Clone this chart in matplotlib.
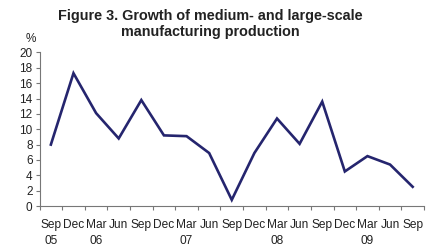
import numpy as np
import matplotlib.pyplot as plt

plt.rcParams['font.family'] = ['Liberation Sans', 'DejaVu Sans']

# data
months = ["Sep", "Dec", "Mar", "Jun", "Sep", "Dec", "Mar", "Jun", "Sep",
          "Dec", "Mar", "Jun", "Sep", "Dec", "Mar", "Jun", "Sep"]
years = ["05", "", "06", "", "", "", "07", "", "", "", "08", "", "", "", "09", "", ""]
growth = [8.0, 17.3, 12.1, 8.8, 13.8, 9.2, 9.1, 6.9, 0.8,
          6.9, 11.4, 8.1, 13.6, 4.5, 6.5, 5.4, 2.5]

fig = plt.figure(figsize=(4.3, 2.46), dpi=100)
ax = fig.add_axes([0.092, 0.1626, 0.894, 0.624])

x = np.arange(len(growth))
ax.plot(x, growth, color="#25256e", linewidth=1.9, solid_joinstyle="miter")

ax.set_xlim(-0.5, len(growth) - 0.5)
ax.set_ylim(0, 20)
ax.set_yticks(np.arange(0, 21, 2))

labels = [f"{m}\n{y}" for m, y in zip(months, years)]
ax.set_xticks(x)
ax.set_xticklabels(labels, fontsize=8.6, color="#222222", linespacing=1.45)
ax.tick_params(axis="x", which="major", length=0, pad=9)
ax.set_xticks(np.arange(-0.5, len(growth)), minor=True)
ax.tick_params(axis="x", which="minor", length=3, color="#777777", width=0.8)
ax.tick_params(axis="y", length=3, color="#777777", width=0.8, labelsize=8.5,
               labelcolor="#222222", pad=2)

for s in ["top", "right"]:
    ax.spines[s].set_visible(False)
for s in ["left", "bottom"]:
    ax.spines[s].set_color("#777777")
    ax.spines[s].set_linewidth(0.8)

fig.text(0.072, 0.83, "%", fontsize=8.5, color="#222222", ha="center")
fig.text(0.49, 0.965, "Figure 3. Growth of medium- and large-scale\nmanufacturing production",
         fontsize=10.4, fontweight="bold", ha="center", va="top", color="#222222",
         linespacing=1.2)

fig.savefig("out.png", dpi=100)
